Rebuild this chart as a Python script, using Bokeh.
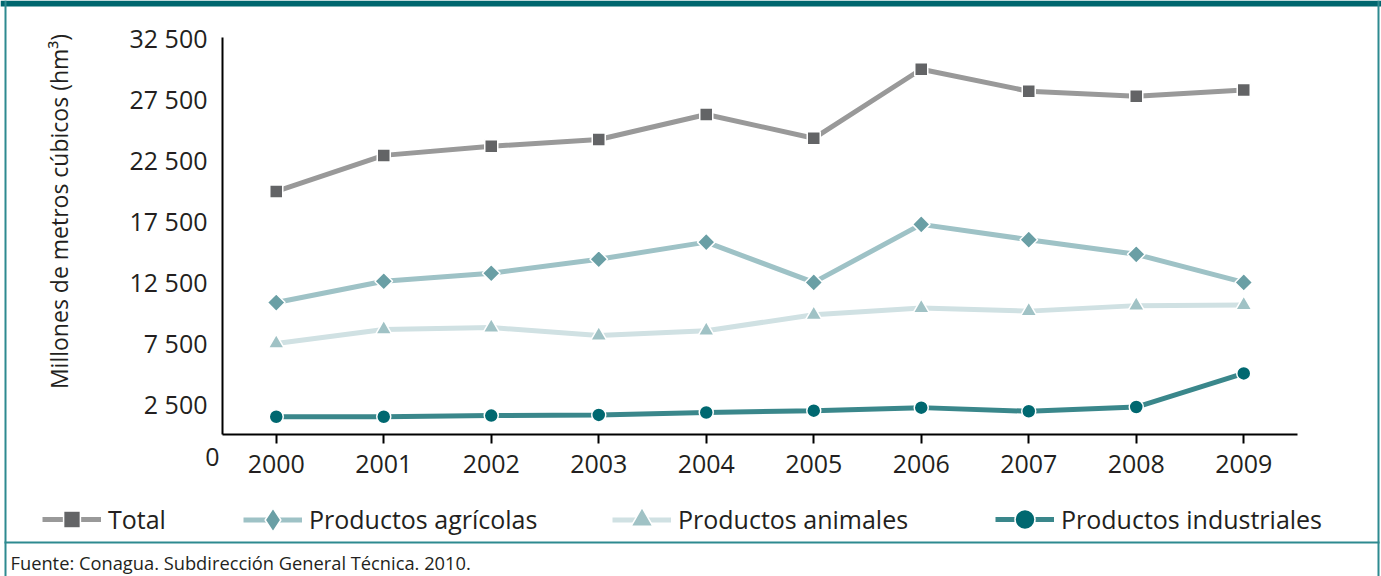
import math
from bokeh.plotting import figure
from bokeh.models import Range1d, FixedTicker, Legend, LegendItem, Label, BoxAnnotation
from bokeh.embed import file_html
from bokeh.resources import INLINE

# ---- data ----
years = [2000, 2001, 2002, 2003, 2004, 2005, 2006, 2007, 2008, 2009]
total = [19900, 22850, 23600, 24150, 26200, 24250, 29900, 28100, 27700, 28200]
agricolas = [10800, 12550, 13200, 14350, 15750, 12450, 17200, 15950, 14750, 12450]
animales = [7450, 8600, 8750, 8100, 8500, 9800, 10350, 10100, 10550, 10600]
industriales = [1450, 1450, 1550, 1600, 1800, 1950, 2200, 1900, 2250, 5000]

series_names = ["Total", "Productos agrícolas", "Productos animales", "Productos industriales"]
y_ticks = [2500, 7500, 12500, 17500, 22500, 27500, 32500]
y_tick_labels = ["2 500", "7 500", "12 500", "17 500", "22 500", "27 500", "32 500"]
x_tick_labels = [str(y) for y in years]
y_title = "Millones de metros  cúbicos (hm³)"
source_text = "Fuente: Conagua. Subdirección General Técnica. 2010."

FONT = "Open Sans"
TXT = "#231F20"
TEAL = "#00676F"
TEAL2 = "#2E8A90"

# ---- layout (pixels) ----
W, H = 1381, 576
X0_PX, X1_PX = 222, 1297      # x-axis extent on canvas
Y0_PX, Y1_PX = 434, 37        # y-axis extent on canvas (value 0 .. 32500)
XMIN, XMAX = 1999.5, 2009.5
YMIN, YMAX = 0, 32500
xs = (X1_PX - X0_PX) / (XMAX - XMIN)
ys = (Y0_PX - Y1_PX) / (YMAX - YMIN)

p = figure(width=W, height=H, output_backend="svg", toolbar_location=None,
           x_range=Range1d(XMIN - X0_PX / xs, XMAX + (W - X1_PX) / xs),
           y_range=Range1d(YMIN - (H - Y0_PX) / ys, YMAX + Y1_PX / ys),
           min_border=0, min_border_left=0, min_border_right=0,
           min_border_top=0, min_border_bottom=0)
p.outline_line_color = None
p.grid.visible = False
p.background_fill_color = "white"
p.border_fill_color = "white"

# x axis
xa = p.xaxis[0]
xa.fixed_location = YMIN
xa.bounds = (XMIN, XMAX)
xa.ticker = FixedTicker(ticks=years)
xa.major_label_overrides = {y: l for y, l in zip(years, x_tick_labels)}
xa.axis_line_color = "black"
xa.axis_line_width = 2
xa.major_tick_in = 0
xa.major_tick_out = 9
xa.major_tick_line_color = "black"
xa.major_tick_line_width = 2
xa.minor_tick_line_color = None
xa.major_label_standoff = 11
xa.major_label_text_font = FONT
xa.major_label_text_font_size = "25px"
xa.major_label_text_color = TXT

# y axis
ya = p.yaxis[0]
ya.fixed_location = XMIN
ya.bounds = (YMIN, YMAX)
ya.ticker = FixedTicker(ticks=y_ticks)
ya.major_label_overrides = {t: l for t, l in zip(y_ticks, y_tick_labels)}
ya.axis_line_color = "black"
ya.axis_line_width = 2
ya.major_tick_line_color = None
ya.minor_tick_line_color = None
ya.major_tick_in = 0
ya.major_tick_out = 0
ya.major_label_standoff = 15
ya.major_label_text_font = FONT
ya.major_label_text_font_size = "25px"
ya.major_label_text_color = TXT

# y title
p.add_layout(Label(x=58, y=H - 208, x_units="screen", y_units="screen", text=y_title,
                   angle=math.pi / 2, text_align="center", text_baseline="middle",
                   text_font=FONT, text_font_size="23px", text_color=TXT))

styles = [
    # line colour, marker, marker colour, size, angle, legend marker, legend glyph height, legend x
    ("#999999", "square", "#636466", 13, 0.0, "square", 42, 42),
    ("#9EC2C6", "square", "#6A9FA5", 12.5, math.pi / 4, "diamond", 59, 243),
    ("#D0E1E3", "triangle", "#A0C2C5", 16, 0.0, "triangle", 55, 612),
    ("#3A878B", "circle", "#006870", 14, 0.0, "circle", 50, 995),
]
data = [total, agricolas, animales, industriales]

LEG_Y = 519
for name, vals, (lc, mk, mc, sz, ang, lmk, g, lx) in zip(series_names, data, styles):
    r1 = p.line(years, vals, line_color=lc, line_width=5)
    r2 = p.scatter(years, vals, marker=mk, size=sz, angle=ang, fill_color=mc,
                   line_color="white", line_width=1.5)
    if lmk != mk:
        # legend-only marker (legend glyphs are never rotated)
        r_leg = p.scatter(years, vals, marker=lmk, size=sz, fill_color=mc,
                          line_color="white", line_width=1.5, visible=False)
        rends = [r1, r_leg]
    else:
        rends = [r1, r2]
    leg = Legend(items=[LegendItem(label=name, renderers=rends)],
                 location=(lx, (H - LEG_Y) - g / 2), orientation="horizontal",
                 glyph_width=59, glyph_height=g, label_height=g, label_standoff=7,
                 padding=0, margin=0, spacing=0, border_line_color=None,
                 background_fill_alpha=0, inactive_fill_alpha=0,
                 label_text_font=FONT,
                 label_text_font_size="25px", label_text_color=TXT)
    p.add_layout(leg)

# "0" at origin
p.add_layout(Label(x=XMIN, y=YMIN, text="0", x_offset=-3, y_offset=-22,
                   text_align="right", text_baseline="middle",
                   text_font=FONT, text_font_size="25px", text_color=TXT))

# source
p.add_layout(Label(x=10, y=H - 562, x_units="screen", y_units="screen",
                   text=source_text, text_align="left", text_baseline="middle",
                   text_font=FONT, text_font_size="18.3px", text_color=TXT))

# decorative frame (screen units: x from left, y from bottom)
boxes = [(0, W, 0, 6, TEAL), (4, 6, 0, H, TEAL2), (1377, 1379, 0, H, TEAL2),
         (4, 1379, 541, 543, TEAL2)]
for (l, r, t, b, c) in boxes:
    p.add_layout(BoxAnnotation(left=l, right=r, top=H - t, bottom=H - b,
                               left_units="screen", right_units="screen",
                               top_units="screen", bottom_units="screen",
                               fill_color=c, fill_alpha=1, line_color=None))

open("out.html", "w").write(file_html(p, INLINE))
